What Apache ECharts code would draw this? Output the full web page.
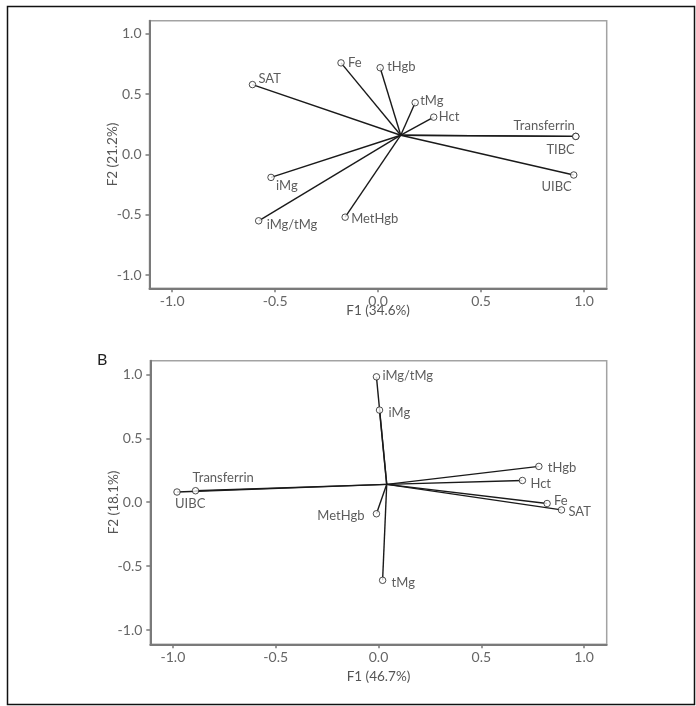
<!DOCTYPE html>
<html>
<head>
<meta charset="utf-8">
<script src="https://cdn.jsdelivr.net/npm/echarts@6/dist/echarts.min.js"></script>
<style>
html,body{margin:0;padding:0;background:#fff;}
#chart{width:696px;height:706px;}
</style>
</head>
<body>
<div id="chart"></div>
<script>
// ---- Data: panel A ----
const namesA = ['SAT','Fe','tHgb','tMg','Hct','Transferrin','TIBC','UIBC','iMg','iMg/tMg','MetHgb'];
const f1A    = [-0.61, -0.18, 0.01, 0.18, 0.27, 0.96, 0.96, 0.95, -0.52, -0.58, -0.16];
const f2A    = [ 0.58,  0.76, 0.72, 0.43, 0.31, 0.15, 0.15, -0.17, -0.19, -0.55, -0.52];
const originA = [0.11, 0.16];
const xNameA = 'F1 (34.6%)';
const yNameA = 'F2 (21.2%)';

// ---- Data: panel B ----
const namesB = ['iMg/tMg','iMg','tHgb','Hct','Fe','SAT','MetHgb','tMg','UIBC','Transferrin'];
const f1B    = [-0.01, 0.005, 0.78, 0.70, 0.82, 0.89, -0.01, 0.02, -0.98, -0.89];
const f2B    = [ 0.98, 0.72,  0.28, 0.17, -0.01, -0.06, -0.09, -0.61, 0.08, 0.09];
const originB = [0.04, 0.14];
const xNameB = 'F1 (46.7%)';
const yNameB = 'F2 (18.1%)';

const tickValues = [-1.0, -0.5, 0.0, 0.5, 1.0];
const panelLabel = 'B';

// ---- label placement (style only): [align, dx, dy] ----
const labelStyleA = {
  'SAT':['left',6,-6], 'Fe':['left',7,0], 'tHgb':['left',7,-1], 'tMg':['left',5,-2],
  'Hct':['left',5,0], 'Transferrin':['right',-1,-11], 'TIBC':['right',-1,13],
  'UIBC':['right',-2,12], 'iMg':['left',5,8], 'iMg/tMg':['left',8,4], 'MetHgb':['left',6,2]
};
const labelStyleB = {
  'iMg/tMg':['left',6,-1], 'iMg':['left',9,3], 'tHgb':['left',9,1], 'Hct':['left',8,3],
  'Fe':['left',7,-3], 'SAT':['left',7,2], 'MetHgb':['right',-12,2], 'tMg':['left',9,3],
  'UIBC':['left',-2,12], 'Transferrin':['left',-3,-13]
};

const FONT = 'Lato';
const chart = echarts.init(document.getElementById('chart'), null, {renderer:'canvas'});

function xAxisCfg(gi, name, gap){
  return {
    type:'value', gridIndex:gi, min:-1.11, max:1.11,
    name:name, nameLocation:'middle', nameGap:gap, nameMoveOverlap:false,
    nameTextStyle:{color:'#555', fontFamily:FONT, fontSize:13.5},
    axisLine:{show:true, onZero:false, lineStyle:{color:'#7a7a7a', width:2}},
    axisTick:{show:true, length:4, customValues:tickValues, lineStyle:{color:'#7a7a7a', width:1.5}},
    axisLabel:{customValues:tickValues, margin:6, color:'#666', fontFamily:FONT, fontSize:14,
      formatter:v=>v.toFixed(1)},
    splitLine:{show:false}
  };
}
function yAxisCfg(gi, name, min, max){
  return {
    type:'value', gridIndex:gi, min:min, max:max,
    name:name, nameLocation:'middle', nameGap:30, nameRotate:90, nameMoveOverlap:false,
    nameTextStyle:{color:'#555', fontFamily:FONT, fontSize:13.5},
    axisLine:{show:true, onZero:false, lineStyle:{color:'#7a7a7a', width:2}},
    axisTick:{show:true, length:4, customValues:tickValues, lineStyle:{color:'#7a7a7a', width:1.5}},
    axisLabel:{customValues:tickValues, margin:8, color:'#666', fontFamily:FONT, fontSize:14,
      formatter:v=>v.toFixed(1)},
    splitLine:{show:false}
  };
}

function linesSeries(gi, names, xs, ys, origin){
  return {
    type:'lines', coordinateSystem:'cartesian2d', xAxisIndex:gi, yAxisIndex:gi,
    polyline:false, silent:true, z:2,
    lineStyle:{color:'#1a1a1a', width:1.4, opacity:1},
    data: names.map((n,i)=>({coords:[origin,[xs[i],ys[i]]]}))
  };
}
function pointSeries(gi, names, xs, ys, styles){
  return {
    type:'scatter', xAxisIndex:gi, yAxisIndex:gi, z:3,
    symbol:'circle', symbolSize:6.5,
    itemStyle:{color:'#fff', borderColor:'#222', borderWidth:1},
    data: names.map((n,i)=>{
      const s = styles[n];
      return {
        name:n, value:[xs[i],ys[i]],
        label:{show:true, formatter:n, position:'inside', align:s[0], verticalAlign:'middle',
          offset:[s[1],s[2]], color:'#333', fontFamily:FONT, fontSize:13}
      };
    })
  };
}

const option = {
  animation:false,
  backgroundColor:'#fff',
  grid:[
    {left:149.5, top:20.7, width:457.2, height:267.6, show:true, borderColor:'#a3a3a3', borderWidth:1.5, backgroundColor:'transparent'},
    {left:150.3, top:360.7, width:456.4, height:283.6, show:true, borderColor:'#a3a3a3', borderWidth:1.5, backgroundColor:'transparent'}
  ],
  xAxis:[ xAxisCfg(0, xNameA, 15), xAxisCfg(1, xNameB, 25) ],
  yAxis:[ yAxisCfg(0, yNameA, -1.11, 1.11), yAxisCfg(1, yNameB, -1.11, 1.106) ],
  series:[
    linesSeries(0, namesA, f1A, f2A, originA),
    pointSeries(0, namesA, f1A, f2A, labelStyleA),
    linesSeries(1, namesB, f1B, f2B, originB),
    pointSeries(1, namesB, f1B, f2B, labelStyleB)
  ],
  graphic:[
    {type:'rect', left:5, top:4, shape:{x:0,y:0,width:687,height:698},
     style:{fill:'none', stroke:'#111', lineWidth:1.5}, silent:true},
    {type:'text', left:97, top:352, style:{text:panelLabel, fill:'#222', font:'16px Lato'}}
  ]
};
chart.setOption(option);
</script>
</body>
</html>
